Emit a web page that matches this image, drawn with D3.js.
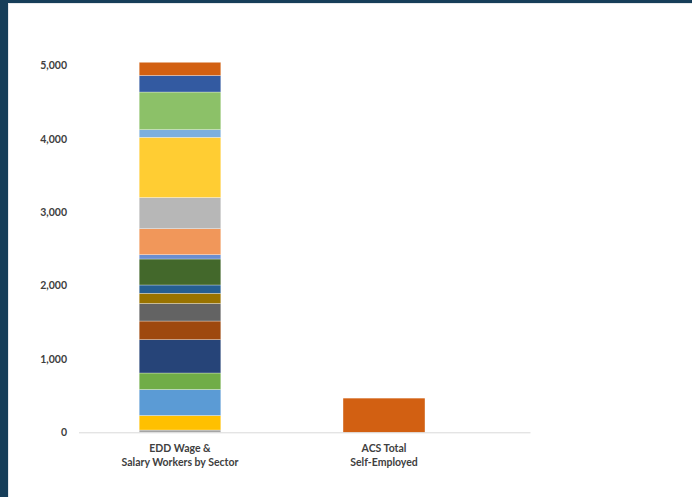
<!DOCTYPE html>
<html><head><meta charset="utf-8">
<script src="https://cdn.jsdelivr.net/npm/d3@7/dist/d3.min.js"></script>
<style>
html,body{margin:0;padding:0;background:#163E59;}
svg{display:block;}
</style></head>
<body>
<svg id="c" width="692" height="497"></svg>
<script>
// Categories
const categories = ["EDD Wage & Salary Workers by Sector", "ACS Total Self-Employed"];
const categoryLines = [["EDD Wage &", "Salary Workers by Sector"], ["ACS Total", "Self-Employed"]];
// EDD sector values (bottom to top)
const sectorValues = [31, 198, 354, 225, 454, 254, 239, 139, 113, 354, 59, 354, 425, 820, 104, 513, 225, 180];
const sectorColors = ["#A5A5A5", "#FFC000", "#5B9BD5", "#70AD47", "#264478", "#9E480E", "#636363", "#997300", "#255E91", "#43682B", "#698ED0", "#F1975A", "#B7B7B7", "#FFCD33", "#7CAFDD", "#8CC168", "#335AA1", "#D26012"];
// ACS total self-employed
const acsValue = 463;
const acsColor = "#D26012";
const yTicks = [0, 1000, 2000, 3000, 4000, 5000];

const svg = d3.select("#c");
// white panel inside dark frame
svg.append("rect").attr("x", 8).attr("y", 3).attr("width", 684).attr("height", 494).attr("fill", "#E6E9EC");
svg.append("rect").attr("x", 9).attr("y", 4).attr("width", 683).attr("height", 493).attr("fill", "#ffffff");

const x = d3.scaleBand().domain(categories).range([78, 486]).paddingInner(0.6).paddingOuter(0.3);
const y = d3.scaleLinear().domain([0, 5000]).range([432.3, 65.3]);

// stacked bar
const rows = sectorValues.map((v, i) => ({ i, v }));
let cum = 0;
const segs = rows.map(r => { const s = { y0: cum, y1: cum + r.v, c: sectorColors[r.i] }; cum += r.v; return s; });

svg.append("g").selectAll("rect").data(segs).join("rect")
  .attr("x", x(categories[0]))
  .attr("width", x.bandwidth())
  .attr("y", d => y(d.y1))
  .attr("height", d => y(d.y0) - y(d.y1))
  .attr("fill", d => d.c)
  .attr("stroke", "#ffffff").attr("stroke-opacity", 0.5).attr("stroke-width", 0.6);

svg.append("rect")
  .attr("x", x(categories[1]))
  .attr("width", x.bandwidth())
  .attr("y", y(acsValue))
  .attr("height", y(0) - y(acsValue))
  .attr("fill", acsColor);

// baseline
svg.append("line").attr("x1", 79).attr("x2", 530.5).attr("y1", y(0) + 0.5).attr("y2", y(0) + 0.5)
  .attr("stroke", "#D9D9D9").attr("stroke-width", 1);

// y axis labels
const yAxis = d3.axisLeft(y).tickValues(yTicks).tickFormat(d3.format(",")).tickSize(0).tickPadding(0);
const ga = svg.append("g").attr("transform", "translate(67,0)").call(yAxis);
ga.select(".domain").remove();
ga.selectAll("text").attr("font-family", "Lato, 'Open Sans', sans-serif").attr("font-weight", "bold")
  .attr("font-size", "10.5px").attr("fill", "#404040");

// category labels
categories.forEach((c, i) => {
  const cx = x(c) + x.bandwidth() / 2;
  const t = svg.append("text").attr("text-anchor", "middle")
    .attr("font-family", "Lato, 'Open Sans', sans-serif").attr("font-weight", "bold")
    .attr("font-size", "10.5px").attr("fill", "#404040");
  categoryLines[i].forEach((ln, j) => {
    t.append("tspan").attr("x", cx).attr("y", 452 + j * 14).text(ln);
  });
});
</script>
</body></html>
